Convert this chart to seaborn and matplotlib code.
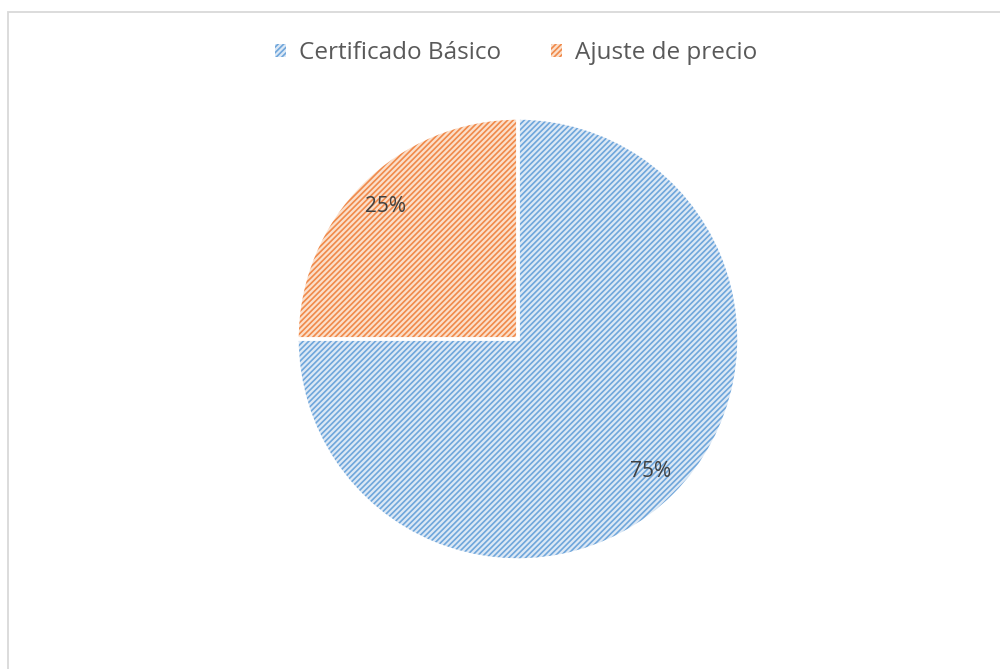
import matplotlib
matplotlib.use("Agg")
import matplotlib.pyplot as plt
from matplotlib.patches import Rectangle, Patch
import seaborn as sns

categories = ["Certificado Básico", "Ajuste de precio"]
values = [75, 25]

sns.set_theme(style="white")
plt.rcParams['font.family'] = ['Open Sans', 'DejaVu Sans']
plt.rcParams['hatch.linewidth'] = 1.2

hatch_colors = ["#6fa6db", "#f0894a"]
face_colors = ["#dce8f5", "#fbdfca"]

fig = plt.figure(figsize=(10, 6.69), dpi=100)
fig.patch.set_facecolor("white")

cx, cy, r = 518, 669 - 339, 221
ax = fig.add_axes([(cx - r) / 1000, (cy - r) / 669, 2 * r / 1000, 2 * r / 669])

wedges, texts, autotexts = ax.pie(
    values, colors=face_colors, startangle=90, counterclock=False,
    autopct="%d%%", pctdistance=0.85,
    wedgeprops=dict(linewidth=0),
    textprops=dict(color="#404040", fontsize=15),
)
for w, hc in zip(wedges, hatch_colors):
    w.set_hatch("//////")
    w.set_edgecolor(hc)
    w.set_linewidth(0)

ax.pie(values, startangle=90, counterclock=False,
       wedgeprops=dict(facecolor="none", edgecolor="white", linewidth=2.5))
ax.set_xlim(-1.0, 1.0)
ax.set_ylim(-1.0, 1.0)
ax.set_aspect("equal")
ax.axis("off")

handles = [Patch(facecolor=fc, edgecolor=hc, hatch="//////", linewidth=0)
           for fc, hc in zip(face_colors, hatch_colors)]
fig.legend(handles, categories, loc="center", bbox_to_anchor=(0.516, 1 - 53 / 669),
           ncol=2, frameon=False, fontsize=17.5, labelcolor="#595959",
           handlelength=0.45, handleheight=0.45, handletextpad=0.55, columnspacing=2.05)

fig.patches.append(Rectangle((8 / 1000, -0.1), 1.2, (669 - 12) / 669 + 0.1,
                             transform=fig.transFigure, fill=False,
                             edgecolor="#d9d9d9", linewidth=1.3))

fig.savefig("out.png", dpi=100, facecolor="white")
